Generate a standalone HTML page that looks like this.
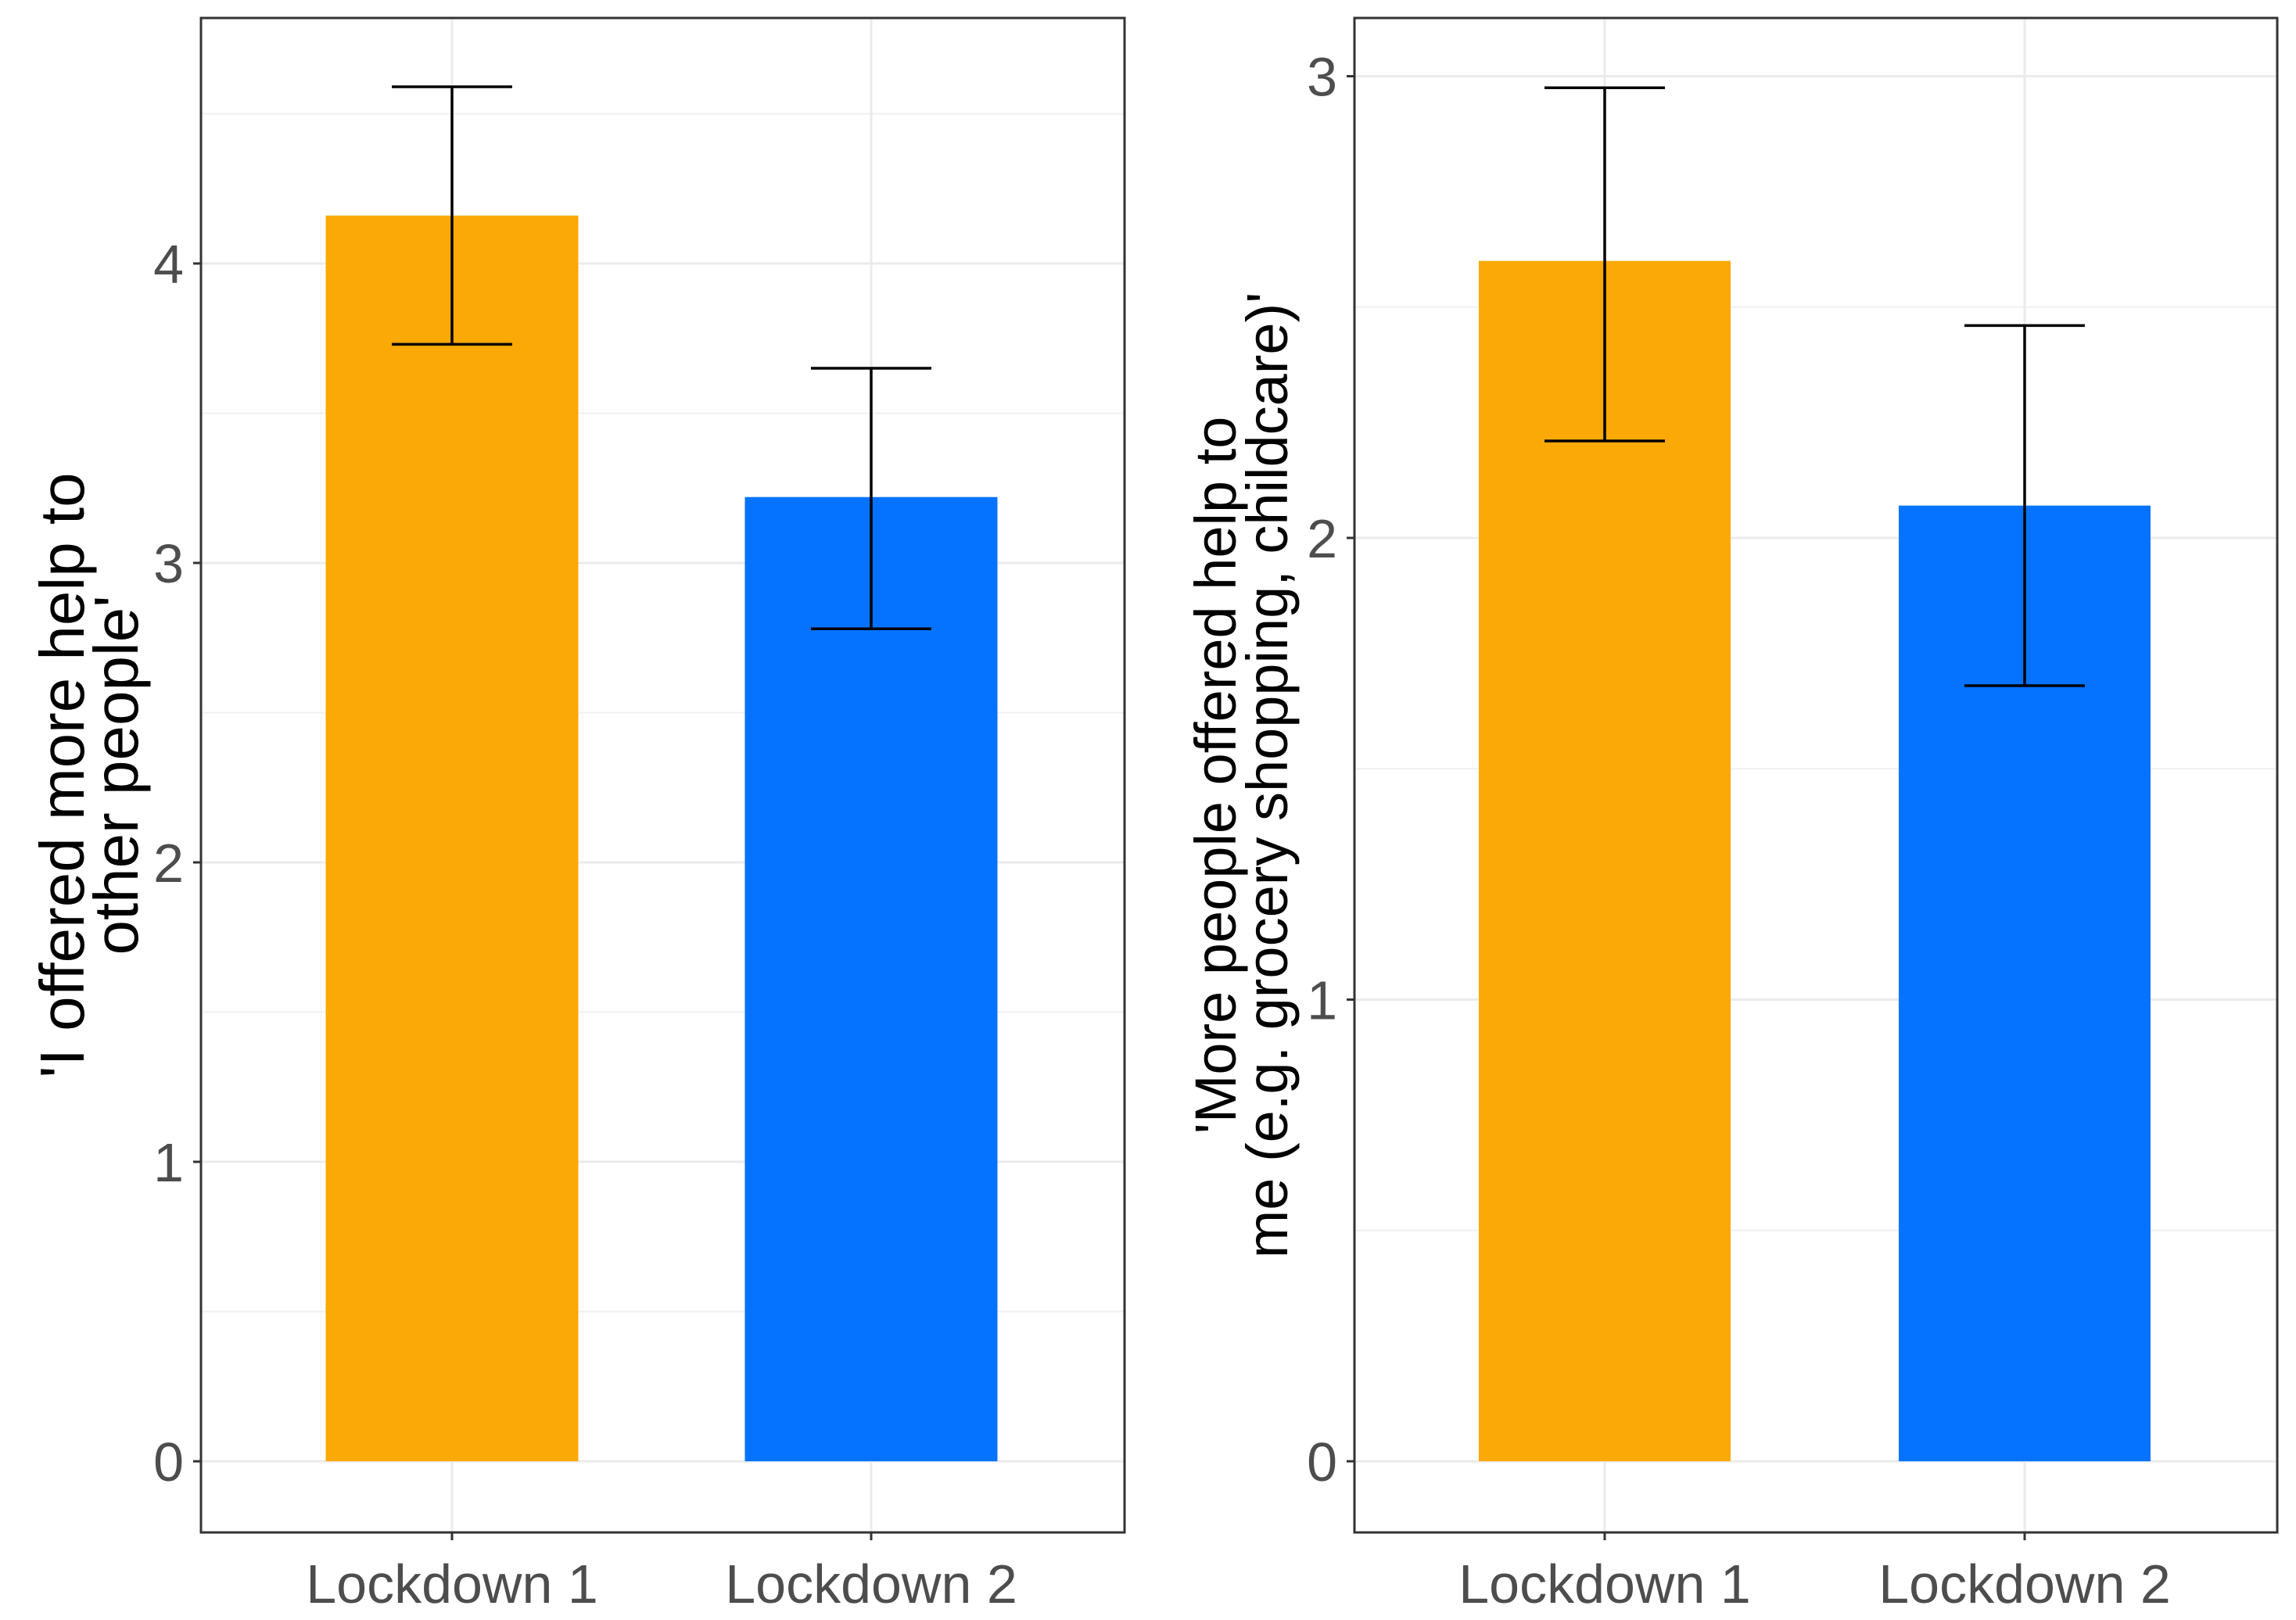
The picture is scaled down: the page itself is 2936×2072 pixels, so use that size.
<!DOCTYPE html>
<html><head><meta charset="utf-8"><style>
html,body{margin:0;padding:0;background:#fff}
svg{display:block}
text{font-family:"Liberation Sans",Arial,sans-serif}
</style></head><body>
<svg id="chart" width="2936" height="2072" viewBox="0 0 2936 2072" xmlns="http://www.w3.org/2000/svg"></svg>
<script>
const categories = ["Lockdown 1", "Lockdown 2"];
const leftValues = [4.16, 3.22];
const leftLower = [3.73, 2.78];
const leftUpper = [4.59, 3.65];
const rightValues = [2.60, 2.07];
const rightLower = [2.21, 1.68];
const rightUpper = [2.975, 2.46];
const leftTicks = [0, 1, 2, 3, 4];
const rightTicks = [0, 1, 2, 3];
const barColors = ["#FAA906", "#0573FF"];

const NS = "http://www.w3.org/2000/svg";
const svg = document.getElementById("chart");
function mk(tag, attrs, parent) {
  const e = document.createElementNS(NS, tag);
  for (const k in attrs) e.setAttribute(k, attrs[k]);
  (parent || svg).appendChild(e);
  return e;
}

function panel(cfg) {
  const g = mk("g", {});
  
  
  const y = v => cfg.y0 - v * cfg.unit;
  const xc = i => cfg.centers[i];
  const maxV = (cfg.y0 - cfg.top) / cfg.unit;
  for (let v = 0.5; v < maxV; v += 1) {
    const l = mk("line", {x1: cfg.left, x2: cfg.right, y1: y(v), y2: y(v), stroke: "#f0f0f0", "stroke-width": 2}, g);
    
    
  }
  cfg.ticks.forEach(t => {
    const l = mk("line", {x1: cfg.left, x2: cfg.right, y1: y(t), y2: y(t), stroke: "#ebebeb", "stroke-width": 3}, g);
    
    
  });
  categories.forEach((c, i) => {
    const l = mk("line", {x1: xc(i), x2: xc(i), y1: cfg.top, y2: cfg.bottom, stroke: "#ebebeb", "stroke-width": 3}, g);
    
    
  });
  categories.forEach((c, i) => {
    const r = mk("rect", {x: xc(i) - cfg.bw / 2, y: y(cfg.values[i]), width: cfg.bw, height: y(0) - y(cfg.values[i]), fill: barColors[i]}, g);
    
    
  });
  categories.forEach((c, i) => {
    const eg = mk("g", {stroke: "#000", "stroke-width": 3.5}, g);
    
    
    mk("line", {x1: xc(i), x2: xc(i), y1: y(cfg.lower[i]), y2: y(cfg.upper[i])}, eg);
    mk("line", {x1: xc(i) - 77, x2: xc(i) + 77, y1: y(cfg.lower[i]), y2: y(cfg.lower[i])}, eg);
    mk("line", {x1: xc(i) - 77, x2: xc(i) + 77, y1: y(cfg.upper[i]), y2: y(cfg.upper[i])}, eg);
  });
  const b = mk("rect", {x: cfg.left, y: cfg.top, width: cfg.right - cfg.left, height: cfg.bottom - cfg.top, fill: "none", stroke: "#333", "stroke-width": 3}, g);
  
  
  cfg.ticks.forEach(t => {
    mk("line", {x1: cfg.left - 10, x2: cfg.left, y1: y(t), y2: y(t), stroke: "#333", "stroke-width": 3}, g);
    const tx = mk("text", {x: cfg.left - 22, y: y(t) + 25, "text-anchor": "end", "font-size": 70, fill: "#4d4d4d"}, g);
    tx.textContent = t;
    
    
  });
  categories.forEach((c, i) => {
    mk("line", {x1: xc(i), x2: xc(i), y1: cfg.bottom, y2: cfg.bottom + 10, stroke: "#333", "stroke-width": 3}, g);
    const tx = mk("text", {x: xc(i), y: cfg.bottom + 90, "text-anchor": "middle", "font-size": 70, fill: "#4d4d4d"}, g);
    tx.textContent = c;
    
    
  });
  const cy = (cfg.top + cfg.bottom) / 2;
  cfg.title.forEach((line, k) => {
    const tx = mk("text", {x: 0, y: 0, "text-anchor": "middle", "font-size": cfg.titleSize, fill: "#000",
      transform: `translate(${cfg.titleX[k]},${cy}) rotate(-90)`}, g);
    tx.textContent = line;
    
    
  });
}

panel({name: "left-panel", left: 257, right: 1438, top: 23, bottom: 1960, y0: 1869, unit: 383,
  centers: [578, 1114], bw: 323, values: leftValues, lower: leftLower, upper: leftUpper, ticks: leftTicks,
  title: ["'I offered more help to", "other people'"], titleX: [107, 176], titleSize: 80});
panel({name: "right-panel", left: 1732, right: 2912, top: 23, bottom: 1960, y0: 1869, unit: 590.5,
  centers: [2052, 2589], bw: 322, values: rightValues, lower: rightLower, upper: rightUpper, ticks: rightTicks,
  title: ["'More people offered help to", "me (e.g. grocery shopping, childcare)'"], titleX: [1580, 1646], titleSize: 74});
</script>
</body></html>
